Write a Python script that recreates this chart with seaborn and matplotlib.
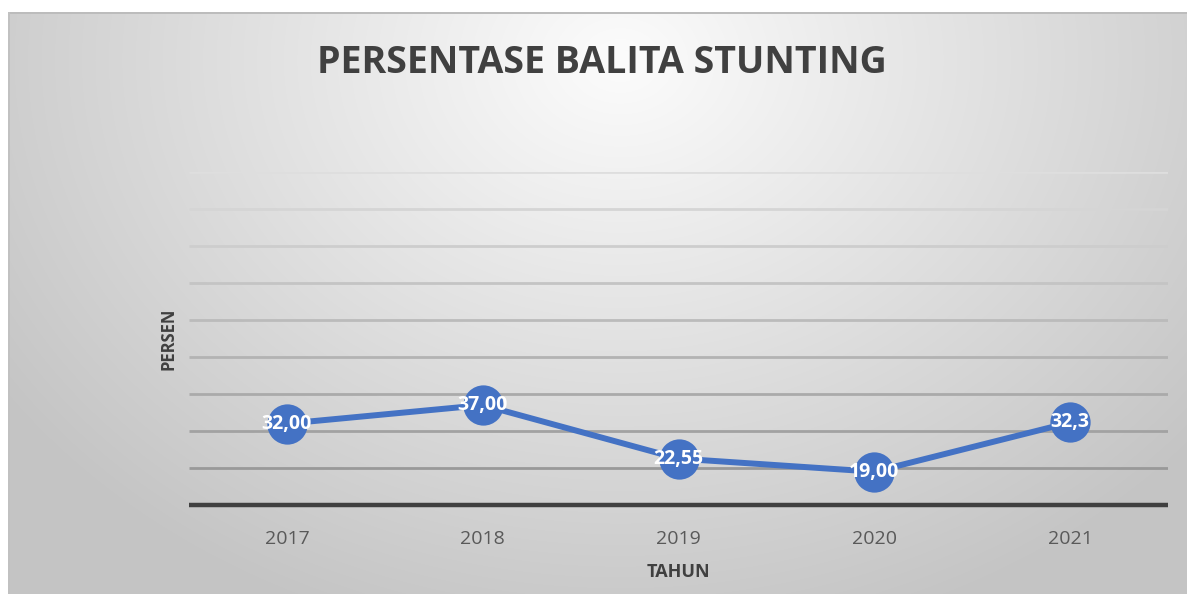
import numpy as np
import pandas as pd
import matplotlib.pyplot as plt
import seaborn as sns

years = ["2017", "2018", "2019", "2020", "2021"]
persen = [32.00, 37.00, 22.55, 19.00, 32.3]
labels = ["32,00", "37,00", "22,55", "19,00", "32,3"]

df = pd.DataFrame({"tahun": years, "persen": persen})

sns.set_theme(style="white")
plt.rcParams["font.family"] = ["Open Sans", "DejaVu Sans"]

W, H = 1187, 594
fig = plt.figure(figsize=(W / 100, H / 100), dpi=100)
fig.patch.set_facecolor("white")

# gradient panel behind the chart
bg = fig.add_axes([0, 0, 1, 1], zorder=-1)
yy, xx = np.mgrid[0:H, 0:W]
d = np.sqrt((xx - 620) ** 2 + ((yy - 60) / 0.8) ** 2)
v = np.clip(252 - 52 * d / 700, 196, 252) / 255.0
img = np.dstack([v, v, v, np.ones_like(v)])
img[:12, :, :3] = 1.0
img[:, :8, :3] = 1.0
img[12:14, 8:, :3] = 0.74
img[12:, 8:10, :3] = 0.76
bg.imshow(img, aspect="auto", extent=[0, W, H, 0])
bg.set_xlim(0, W)
bg.set_ylim(H, 0)
bg.axis("off")

ax = fig.add_axes([189 / W, 1 - 505 / H, (1168 - 189) / W, (505 - 172) / H])
ax.set_facecolor("none")

sns.lineplot(data=df, x="tahun", y="persen", ax=ax, color="#4472C4",
             linewidth=4.3, marker="o", markersize=29, markeredgewidth=0,
             sort=False)

ax.set_xlim(-0.5, len(years) - 0.5)
ax.set_ylim(10, 100)
ticks = np.arange(20, 101, 10)
greys = np.linspace(0.60, 0.87, len(ticks))
for t, g in zip(ticks, greys):
    ax.axhline(t, color=(g, g, g), linewidth=2, zorder=0, solid_capstyle="butt")
ax.axhline(10, color="#404040", linewidth=3.2, zorder=1, clip_on=False,
           solid_capstyle="butt")

for i, (val, lab) in enumerate(zip(persen, labels)):
    ax.text(i, val, lab, ha="center", va="center", color="white",
            fontsize=14, fontweight="bold", zorder=5)

for s in ax.spines.values():
    s.set_visible(False)
ax.set_yticks([])
ax.tick_params(axis="x", length=0, pad=18, labelsize=14, labelcolor="#595959")

ax.set_xlabel("TAHUN", fontsize=13, fontweight="bold", color="#404040", labelpad=11)
ax.set_ylabel("PERSEN", fontsize=12, fontweight="bold", color="#404040", labelpad=8)

fig.text(602 / W, 1 - 63 / H, "PERSENTASE BALITA STUNTING", ha="center", va="center",
         fontsize=27, fontweight="bold", color="#404040")

fig.savefig("out.png", dpi=100)
